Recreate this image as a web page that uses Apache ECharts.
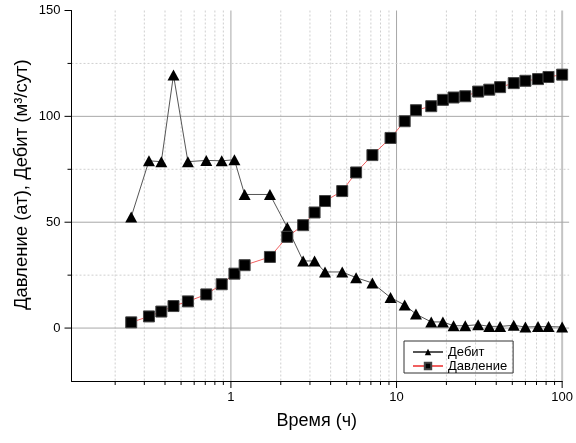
<!DOCTYPE html>
<html>
<head>
<meta charset="utf-8">
<script src="https://cdn.jsdelivr.net/npm/echarts@6/dist/echarts.min.js"></script>
<style>html,body{margin:0;padding:0;background:#fff}#c{width:576px;height:443px}</style>
</head>
<body>
<div id="c"></div>
<script>
// ---- data ----
var time = [0.25, 0.32, 0.38, 0.45, 0.55, 0.71, 0.88, 1.05, 1.21, 1.72,
            2.19, 2.73, 3.2, 3.7, 4.7, 5.7, 7.15, 9.2, 11.2, 13.1,
            16.2, 19.05, 22.1, 26, 31.1, 36.3, 42.2, 51, 60, 71.5,
            82.7, 100];
var debit = [52.5, 79, 78.6, 119.5, 78.6, 79.2, 79, 79.5, 63.1, 63.1,
             47.5, 31.7, 31.7, 26.5, 26.5, 23.8, 21.3, 14.4, 10.9, 6.6,
             2.9, 2.9, 1.1, 1.1, 1.6, 0.8, 0.8, 1.3, 0.5, 0.7,
             0.7, 0.5];
var pressure = [2.7, 5.5, 7.8, 10.4, 12.6, 15.9, 20.7, 25.7, 29.7, 33.6,
                43.1, 48.6, 54.6, 60.0, 64.7, 73.5, 81.7, 89.8, 97.7, 102.9,
                104.8, 107.8, 108.9, 109.5, 111.7, 112.6, 113.8, 115.7, 116.8, 117.6,
                118.6, 119.7];
var seriesNames = ['Дебит', 'Давление'];
var xMajorTicks = [1, 10, 100];
var xMinorTicks = [0.2,0.3,0.4,0.5,0.6,0.7,0.8,0.9, 2,3,4,5,6,7,8,9, 20,30,40,50,60,70,80,90];
var yMajorTicks = [0, 50, 100, 150];
var yMinorTicks = [25, 75, 125];
var X_MIN = 0.109, X_MAX = 100, Y_MIN = -25, Y_MAX = 150;

var FONT = 'Liberation Sans, Arial, sans-serif';

function zip(a, b) { return a.map(function (v, i) { return [v, b[i]]; }); }

var vData = xMajorTicks.map(function (v) { return [v, 0, 1]; })
  .concat(xMinorTicks.map(function (v) { return [v, 0, 0]; }));
var hData = yMajorTicks.map(function (v) { return [1, v, 1]; })
  .concat(yMinorTicks.map(function (v) { return [1, v, 0]; }));

function renderV(params, api) {
  var x = api.value(0), major = api.value(2);
  var top = api.coord([x, Y_MAX]), bot = api.coord([x, Y_MIN]);
  var children = [];
  children.push({
    type: 'line',
    shape: { x1: top[0], y1: top[1], x2: bot[0], y2: bot[1] },
    style: major ? { stroke: x === X_MAX ? '#c4c4c4' : '#a8a8a8', lineWidth: x === X_MAX ? 2 : 1 }
                 : { stroke: '#cfcfcf', lineWidth: 1, lineDash: [2, 2] }
  });
  children.push({
    type: 'line',
    shape: { x1: bot[0], y1: bot[1], x2: bot[0], y2: bot[1] + (major ? 7 : 4) },
    style: { stroke: '#000', lineWidth: 1 }
  });
  return { type: 'group', children: children };
}
function renderH(params, api) {
  var y = api.value(1), major = api.value(2);
  var l = api.coord([X_MIN, y]), r = api.coord([X_MAX, y]);
  var children = [];
  if (y !== Y_MAX) {
    children.push({
      type: 'line',
      shape: { x1: l[0], y1: l[1], x2: r[0] + 7, y2: r[1] },
      style: major ? { stroke: '#a8a8a8', lineWidth: 1 }
                   : { stroke: '#cfcfcf', lineWidth: 1, lineDash: [2, 2] }
    });
  }
  children.push({
    type: 'line',
    shape: { x1: l[0], y1: l[1], x2: l[0] - (major ? 7 : 4), y2: l[1] },
    style: { stroke: '#000', lineWidth: 1 }
  });
  return { type: 'group', children: children };
}

var chart = echarts.init(document.getElementById('c'));
chart.setOption({
  animation: false,
  backgroundColor: '#fff',
  grid: { left: 71.5, right: 10.5, top: 10.5, bottom: 62, containLabel: false },
  legend: {
    data: seriesNames,
    orient: 'vertical',
    left: 404, top: 341,
    padding: [4, 6, 0, 8],
    itemGap: 0,
    itemWidth: 30, itemHeight: 8,
    borderColor: '#333', borderWidth: 1,
    textStyle: { fontFamily: FONT, fontSize: 13, lineHeight: 14, color: '#000' }
  },
  xAxis: {
    type: 'log', logBase: 10, min: X_MIN, max: X_MAX,
    name: 'Время (ч)', nameLocation: 'middle', nameGap: 31, nameMoveOverlap: false,
    nameTextStyle: { fontFamily: FONT, fontSize: 18, color: '#000' },
    axisLine: { onZero: false, lineStyle: { color: '#000', width: 1 } },
    axisTick: { show: false },
    splitLine: { show: false },
    axisLabel: {
      margin: 10, fontFamily: FONT, fontSize: 13, color: '#000',
      showMinLabel: true, showMaxLabel: true, hideOverlap: false,
      formatter: function (v) {
        var l = Math.log(v) / Math.LN10;
        return Math.abs(l - Math.round(l)) < 1e-6 && v >= 1 ? String(Math.round(v)) : '';
      }
    }
  },
  yAxis: {
    type: 'value', min: Y_MIN, max: Y_MAX, interval: 25,
    name: 'Давление (ат), Дебит (м³/сут)', nameLocation: 'middle', nameGap: 40, nameMoveOverlap: false,
    nameTextStyle: { fontFamily: FONT, fontSize: 18.5, color: '#000', padding: [0, 0, 0, 22] },
    axisLine: { show: true, onZero: false, lineStyle: { color: '#000', width: 1 } },
    axisTick: { show: false },
    splitLine: { show: false },
    axisLabel: {
      margin: 11, fontFamily: FONT, fontSize: 13, color: '#000',
      formatter: function (v) { return v % 50 === 0 && v >= 0 ? String(v) : ''; }
    }
  },
  series: [
    { type: 'custom', name: 'vgrid', renderItem: renderV, data: vData, encode: { x: 0, y: 1 }, z: 0, silent: true, clip: false },
    { type: 'custom', name: 'hgrid', renderItem: renderH, data: hData, encode: { x: 0, y: 1 }, z: 0, silent: true, clip: false },
    {
      name: seriesNames[0], type: 'line', data: zip(time, debit), z: 3,
      symbol: 'triangle', symbolSize: [12, 11], showAllSymbol: true,
      itemStyle: { color: '#000', borderColor: '#000', borderWidth: 0 },
      lineStyle: { color: '#555', width: 1 }
    },
    {
      name: seriesNames[1], type: 'line', data: zip(time, pressure), z: 4,
      symbol: 'rect', symbolSize: 11, showAllSymbol: true,
      itemStyle: { color: '#000', borderColor: '#444', borderWidth: 1 },
      lineStyle: { color: '#f06060', width: 1 }
    }
  ]
});
</script>
</body>
</html>
